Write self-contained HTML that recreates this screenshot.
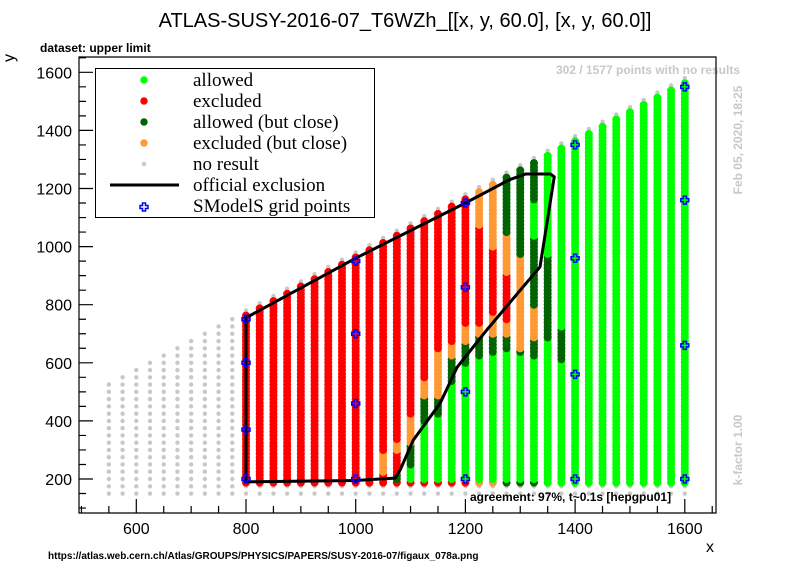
<!DOCTYPE html>
<html><head><meta charset="utf-8"><style>
body{margin:0;background:#fff;}
svg{display:block;font-family:"Liberation Sans",sans-serif;}
</style></head><body>
<svg id="chart" width="796" height="572" viewBox="0 0 796 572" xmlns="http://www.w3.org/2000/svg">
<rect x="0" y="0" width="796" height="572" fill="#fff"/>
<text x="405" y="27" font-size="20" text-anchor="middle">ATLAS-SUSY-2016-07_T6WZh_[[x, y, 60.0], [x, y, 60.0]]</text>
<text x="40" y="52" font-size="12" font-weight="bold">dataset: upper limit</text>
<text x="740" y="74" font-size="12" font-weight="bold" fill="#c8c8c8" text-anchor="end">302 / 1577 points with no results</text>
<text transform="translate(742,140) rotate(-90)" font-size="12" font-weight="bold" fill="#c8c8c8" text-anchor="middle">Feb 05, 2020, 18:25</text>
<text transform="translate(742,450) rotate(-90)" font-size="12" font-weight="bold" fill="#c8c8c8" text-anchor="middle">k-factor 1.00</text>
<text x="48" y="559" font-size="10" font-weight="bold">https://atlas.web.cern.ch/Atlas/GROUPS/PHYSICS/PAPERS/SUSY-2016-07/figaux_078a.png</text>
<text x="706" y="552" font-size="16">x</text>
<text transform="translate(14,62) rotate(-90)" font-size="16">y</text>
<g id="points"></g>
<g id="axes"></g>
<text x="470" y="501" font-size="12" font-weight="bold">agreement: 97%, t~0.1s [hepgpu01]</text>
<g id="legend">
<rect x="95.5" y="68.5" width="279" height="149" fill="#fff" stroke="#000" stroke-width="1"/>
</g>
</svg>
<script>
// ---- data ----
const greyCols = [550,575,600,625,650,675,700,725,750,775];
const colX = [800,825,850,875,900,925,950,975,1000,1025,1050,1075,1100,1125,1150,1175,1200,1225,1250,1275,1300,1325,1350,1375,1400,1425,1450,1475,1500,1525,1550,1575,1600];
// per-column segments: [yLow, yHigh, category]  (r=excluded, o=excluded close, d=allowed close, g=allowed)
const colSegs = [
 [[188,2000,'r']],[[188,2000,'r']],[[188,2000,'r']],[[188,2000,'r']],[[188,2000,'r']],
 [[188,2000,'r']],[[188,2000,'r']],[[188,2000,'r']],[[188,2000,'r']],[[188,2000,'r']],
 [[188,220,'r'],[220,300,'o'],[300,2000,'r']],
 [[188,220,'d'],[220,290,'r'],[290,330,'o'],[330,2000,'r']],
 [[188,250,'g'],[250,325,'d'],[325,413,'o'],[413,2000,'r']],
 [[188,400,'g'],[400,482,'d'],[482,547,'o'],[547,2000,'r']],
 [[188,420,'g'],[420,482,'d'],[482,644,'o'],[644,2000,'r']],
 [[188,530,'g'],[530,620,'d'],[620,668,'o'],[668,2000,'r']],
 [[188,590,'g'],[590,668,'d'],[668,737,'o'],[737,2000,'r']],
 [[188,620,'g'],[620,690,'d'],[690,737,'o'],[737,1066,'r'],[1066,2000,'o']],
 [[188,630,'g'],[630,690,'d'],[690,770,'o'],[770,990,'r'],[990,2000,'o']],
 [[188,645,'g'],[645,690,'d'],[690,750,'o'],[750,910,'r'],[910,1045,'o'],[1045,2000,'d']],
 [[188,635,'g'],[635,645,'d'],[645,965,'o'],[965,2000,'d']],
 [[188,620,'g'],[620,680,'d'],[680,800,'o'],[800,1030,'d'],[1030,1155,'g'],[1155,2000,'d']],
 [[188,680,'g'],[680,970,'d'],[970,2000,'g']],
 [[188,610,'g'],[610,720,'d'],[720,2000,'g']],
 [[188,2000,'g']],[[188,2000,'g']],[[188,2000,'g']],[[188,2000,'g']],[[188,2000,'g']],
 [[188,2000,'g']],[[188,2000,'g']],[[188,2000,'g']],[[188,2000,'g']]
];
const exclX = [800,800,1000,1200,1280,1310,1355,1362,1336,1300,1239,1185,1154,1105,1081,1072,1000,800];
const exclY = [190,755,960,1150,1230,1250,1250,1240,930,850,713,585,461,334,231,203,195,190];
const gridX = [800,800,800,800,1000,1000,1000,1000,1200,1200,1200,1200,1400,1400,1400,1400,1600,1600,1600,1600];
const gridY = [200,370,600,750,200,460,700,950,200,500,860,1150,200,560,960,1350,200,660,1160,1550];
const xTicks = [600,800,1000,1200,1400,1600];
const yTicks = [200,400,600,800,1000,1200,1400,1600];

// ---- scales ----
const X0=79, X1=716, Y0=513, Y1=57;
function xs(v){return 246+(v-800)*0.5485;}
function ys(v){return 479-(v-200)*0.2905;}
const NS="http://www.w3.org/2000/svg";
const colors={g:'#00ff00',r:'#ff0000',d:'#006400',o:'#ff9933'};
const pts=document.getElementById('points');
function circ(par,x,y,r,fill){const c=document.createElementNS(NS,'circle');c.setAttribute('cx',x);c.setAttribute('cy',y);c.setAttribute('r',r);c.setAttribute('fill',fill);par.appendChild(c);return c;}

greyCols.forEach(x=>{
  for(let y=150;y<=x-25;y+=25){
    const c=circ(pts,xs(x),ys(y),2.2,'#c8c8c8');
    
    
  }
});
colX.forEach((x,i)=>{
  const top=x-37.5;
  [150,175,x-20].forEach(y=>{
    const c=circ(pts,xs(x),ys(y),2.2,'#c8c8c8');
    
    
  });
  for(let y=187.5;y<=top;y+=12.5){
    const seg=colSegs[i].find(s=>y>=s[0]&&y<s[1])||colSegs[i][colSegs[i].length-1];
    const c=circ(pts,xs(x),ys(y),4,colors[seg[2]]);
    
    
  }
});
const pl=document.createElementNS(NS,'polyline');
pl.setAttribute('points',exclX.map((x,i)=>xs(x)+','+ys(exclY[i])).join(' '));
pl.setAttribute('fill','none');pl.setAttribute('stroke','#000');pl.setAttribute('stroke-width','3');pl.setAttribute('stroke-linejoin','round');


pts.appendChild(pl);
function cross(par,x,y){
  const p=document.createElementNS(NS,'path');
  p.setAttribute('d',`M${x-1.5},${y-4}h3v2.5h2.5v3h-2.5v2.5h-3v-2.5h-2.5v-3h2.5z`);
  p.setAttribute('fill','none');p.setAttribute('stroke','#0000ff');p.setAttribute('stroke-width','1.5');
  par.appendChild(p);return p;
}
gridX.forEach((x,i)=>{
  const p=cross(pts,xs(x),ys(gridY[i]));
  
  
});
const ax=document.getElementById('axes');
let d=`M${X0},${Y1}H${X1}V${Y0}H${X0}Z`;
for(let v=500;v<=1650;v+=50){const px=xs(v);if(px<X0||px>X1)continue;const L=(v%200===0)?14:7;d+=`M${px},${Y0}v${-L}`;}
for(let v=100;v<=1650;v+=50){const py=ys(v);if(py<Y1||py>Y0)continue;const L=(v%200===0)?14:7;d+=`M${X0},${py}h${L}`;}
const fr=document.createElementNS(NS,'path');fr.setAttribute('d',d);fr.setAttribute('fill','none');fr.setAttribute('stroke','#000');fr.setAttribute('stroke-width','1.2');


ax.appendChild(fr);
xTicks.forEach(v=>{const t=document.createElementNS(NS,'text');t.setAttribute('x',xs(v));t.setAttribute('y',534);t.setAttribute('font-size','16');t.setAttribute('text-anchor','middle');t.textContent=v;
 
 
 ax.appendChild(t);});
yTicks.forEach(v=>{const t=document.createElementNS(NS,'text');t.setAttribute('x',72);t.setAttribute('y',ys(v)+6);t.setAttribute('font-size','16');t.setAttribute('text-anchor','end');t.textContent=v;
 
 
 ax.appendChild(t);});
const lg=document.getElementById('legend');
const legLabels=['allowed','excluded','allowed (but close)','excluded (but close)','no result','official exclusion','SModelS grid points'];
const legKinds=['g','r','d','o','n','l','c'];
legLabels.forEach((lab,i)=>{
  const y=80+i*21;
  const g=document.createElementNS(NS,'g');
  
  
  const k=legKinds[i];
  if(colors[k])circ(g,144,y,3.7,colors[k]);
  else if(k==='n')circ(g,144,y,2.2,'#c8c8c8');
  else if(k==='l'){const l=document.createElementNS(NS,'line');l.setAttribute('x1',110);l.setAttribute('x2',179);l.setAttribute('y1',y);l.setAttribute('y2',y);l.setAttribute('stroke','#000');l.setAttribute('stroke-width','3');g.appendChild(l);}
  else cross(g,144,y+1);
  const t=document.createElementNS(NS,'text');t.setAttribute('x',193);t.setAttribute('y',y+6);t.setAttribute('font-size','19');t.setAttribute('font-family','"Liberation Serif",serif');t.textContent=lab;g.appendChild(t);
  lg.appendChild(g);
});
</script>
</body></html>
